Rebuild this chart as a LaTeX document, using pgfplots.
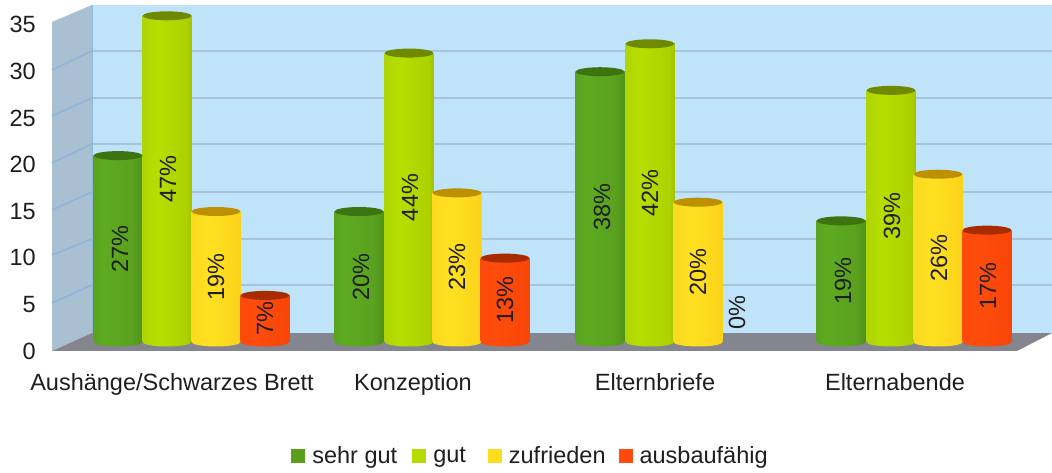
\documentclass[border=0pt]{standalone}
\usepackage{pgfplots}
\usepackage{pgfplotstable}
\usepackage{fontspec}
\setmainfont{Liberation Sans}
\pgfplotsset{compat=1.18}
\definecolor{txt}{HTML}{1E1E1E}
\definecolor{backwall}{HTML}{BFE4FA}
\definecolor{sidewall}{HTML}{A9BFD2}
\definecolor{floorc}{HTML}{85858F}
\definecolor{gridb}{HTML}{A9C3DC}
\definecolor{grids}{HTML}{8CB6DA}
\definecolor{cG}{HTML}{5A9E1C}
\definecolor{cL}{HTML}{B5DB00}
\definecolor{cY}{HTML}{FFDC20}
\definecolor{cR}{HTML}{FF4A0C}
\definecolor{tG}{HTML}{3C7410}
\definecolor{tL}{HTML}{6F8A00}
\definecolor{tY}{HTML}{BC9000}
\definecolor{tR}{HTML}{A82C00}
\pgfdeclarehorizontalshading{sG}{100bp}{rgb(0bp)=(0.29,0.56,0.10); rgb(35bp)=(0.37,0.67,0.13); rgb(65bp)=(0.35,0.63,0.12); rgb(100bp)=(0.22,0.42,0.06)}
\pgfdeclarehorizontalshading{sL}{100bp}{rgb(0bp)=(0.62,0.78,0.05); rgb(40bp)=(0.72,0.87,0.0); rgb(70bp)=(0.68,0.82,0.0); rgb(100bp)=(0.42,0.52,0.0)}
\pgfdeclarehorizontalshading{sY}{100bp}{rgb(0bp)=(0.98,0.82,0.12); rgb(45bp)=(1.0,0.88,0.13); rgb(78bp)=(0.98,0.82,0.10); rgb(100bp)=(0.75,0.55,0.0)}
\pgfdeclarehorizontalshading{sR}{100bp}{rgb(0bp)=(0.95,0.27,0.04); rgb(40bp)=(1.0,0.30,0.05); rgb(75bp)=(0.97,0.27,0.03); rgb(100bp)=(0.65,0.16,0.0)}
\pgfdeclareplotmark{baseG}{\path[draw=none,shade,shading=sG] (0pt,0pt) ellipse [x radius=24.5pt,y radius=4.5pt];}
\pgfdeclareplotmark{baseL}{\path[draw=none,shade,shading=sL] (0pt,0pt) ellipse [x radius=24.5pt,y radius=4.5pt];}
\pgfdeclareplotmark{baseY}{\path[draw=none,shade,shading=sY] (0pt,0pt) ellipse [x radius=24.5pt,y radius=4.5pt];}
\pgfdeclareplotmark{baseR}{\path[draw=none,shade,shading=sR] (0pt,0pt) ellipse [x radius=24.5pt,y radius=4.5pt];}
\pgfdeclareplotmark{topG}{\path[draw=none,fill=tG,rotate=2] (0pt,0pt) ellipse [x radius=24.5pt,y radius=4.5pt];}
\pgfdeclareplotmark{topL}{\path[draw=none,fill=tL,rotate=2] (0pt,0pt) ellipse [x radius=24.5pt,y radius=4.5pt];}
\pgfdeclareplotmark{topY}{\path[draw=none,fill=tY,rotate=2] (0pt,0pt) ellipse [x radius=24.5pt,y radius=4.5pt];}
\pgfdeclareplotmark{topR}{\path[draw=none,fill=tR,rotate=2] (0pt,0pt) ellipse [x radius=24.5pt,y radius=4.5pt];}
\pgfplotstableread{
x y
118 20
359 14
600 29
841 13
}\tG
\pgfplotstableread{
x y
167 35
409 31
650 32
891 27
}\tL
\pgfplotstableread{
x y
216 14
457 16
698 15
938 18
}\tY
\pgfplotstableread{
x y
265 5
505 9
746 0
987 12
}\tR
\pgfplotstableread{
lx ly pct
120 10 27
168 17.5 47
216 7 19
265 2.5 7
361 7 20
410 15.5 44
457 8 23
505 4.5 13
602 14.5 38
650 16 42
698 7.5 20
737 3.2 0
843 6.5 19
892 13.5 39
939 9 26
988 6 17
}\tLab
\newcommand\fs{\fontsize{23.5}{28}\selectfont}
\pgfplotsset{cyl/.style={ybar,bar shift=0pt,bar width=49pt,draw=none,shade,shading=#1,forget plot}}
\begin{document}
\begin{tikzpicture}[x=1pt,y=1pt]
\path[use as bounding box] (0,0) rectangle (1052,473);
% frame
\begin{axis}[at={(52pt,122pt)},anchor=south west,scale only axis,width=1000pt,height=346pt,
  xmin=52,xmax=1052,ymin=0,ymax=37.12,clip=false,
  axis line style={draw=none},major tick length=0pt,
  ytick={0,5,10,15,20,25,30,35},
  xtick={172,413,655,895},
  xticklabels={Aushänge/Schwarzes Brett,Konzeption,Elternbriefe,Elternabende},
  /pgf/number format/assume math mode=true,
  tick label style={font=\fs,text=txt},
  yticklabel style={anchor=east,inner sep=0pt,xshift=-16pt},
  xticklabel style={anchor=base,inner sep=0pt,yshift=-40pt},
  unbounded coords=jump]
\addplot[fill=backwall,draw=none] coordinates {(92,1.93)(1052,1.93)(1052,37.12)(92,37.12)} --cycle;
\addplot[fill=sidewall,draw=none] coordinates {(52,0)(92,1.93)(92,37.12)(52,35.30)} --cycle;
\addplot[fill=floorc,draw=none] coordinates {(52,0)(1017,0)(1052,1.93)(92,1.93)} --cycle;
\addplot[gridb,line width=2.2pt] coordinates {(92,7.08)(1052,7.08)(nan,nan)(92,12.02)(1052,12.02)(nan,nan)(92,17.06)(1052,17.06)(nan,nan)(92,22.21)(1052,22.21)(nan,nan)(92,27.15)(1052,27.15)(nan,nan)(92,32.19)(1052,32.19)};
\addplot[grids,line width=1.5pt] coordinates {(52,5.15)(92,7.08)(nan,nan)(52,10.30)(92,12.02)(nan,nan)(52,15.13)(92,17.06)(nan,nan)(52,20.17)(92,22.21)(nan,nan)(52,25.21)(92,27.15)(nan,nan)(52,30.15)(92,32.19)};
\addplot[grids,line width=1pt] coordinates {(92,1.93)(92,37.12)};
\end{axis}
% bars
\begin{axis}[at={(52pt,131pt)},anchor=south west,scale only axis,width=1000pt,height=337pt,
  xmin=52,xmax=1052,ymin=0,ymax=36.16,clip=false,hide axis,unbounded coords=discard,
  legend columns=-1,
  legend style={draw=none,fill=none,at={(0.4785,-0.338)},anchor=center,font=\fs,text=txt,
    /tikz/column 1/.style={column sep=5pt},
    /tikz/column 2/.style={column sep=13pt},
    /tikz/column 3/.style={column sep=5pt},
    /tikz/column 4/.style={column sep=20pt},
    /tikz/column 5/.style={column sep=5pt},
    /tikz/column 6/.style={column sep=11pt},
    /tikz/column 7/.style={column sep=5pt}}]
\addplot[only marks,mark=baseG,forget plot] table [x=x,y expr=0] {\tG};
\addplot[cyl=sG] coordinates {(118,20)};
\addplot[cyl=sG] coordinates {(359,14)};
\addplot[cyl=sG] coordinates {(600,29)};
\addplot[cyl=sG] coordinates {(841,13)};
\addplot[only marks,mark=topG,forget plot] table [x=x,y=y] {\tG};
\addplot[only marks,mark=baseL,forget plot] table [x=x,y expr=0] {\tL};
\addplot[cyl=sL] coordinates {(167,35)};
\addplot[cyl=sL] coordinates {(409,31)};
\addplot[cyl=sL] coordinates {(650,32)};
\addplot[cyl=sL] coordinates {(891,27)};
\addplot[only marks,mark=topL,forget plot] table [x=x,y=y] {\tL};
\addplot[only marks,mark=baseY,forget plot] table [x=x,y expr=0] {\tY};
\addplot[cyl=sY] coordinates {(216,14)};
\addplot[cyl=sY] coordinates {(457,16)};
\addplot[cyl=sY] coordinates {(698,15)};
\addplot[cyl=sY] coordinates {(938,18)};
\addplot[only marks,mark=topY,forget plot] table [x=x,y=y] {\tY};
\addplot[only marks,mark=baseR,forget plot] table [x expr={\thisrow{y}>0 ? \thisrow{x} : nan},y expr=0] {\tR};
\addplot[cyl=sR] coordinates {(265,5)};
\addplot[cyl=sR] coordinates {(505,9)};
\addplot[cyl=sR] coordinates {(987,12)};
\addplot[only marks,mark=topR,forget plot] table [x expr={\thisrow{y}>0 ? \thisrow{x} : nan},y=y] {\tR};
\addplot[only marks,mark=none,draw=none,forget plot,point meta=explicit symbolic,
  nodes near coords={\pgfplotspointmeta\%},
  nodes near coords style={rotate=90,anchor=center,font=\fs,text=txt,inner sep=0pt}]
  table [x=lx,y=ly,meta=pct] {\tLab};
% legend entries
\addplot[draw=none,legend image code/.code={\fill[cG] (0pt,-7pt) rectangle (14pt,7pt);}] coordinates {(118,20)};
\addplot[draw=none,legend image code/.code={\fill[cL] (0pt,-7pt) rectangle (14pt,7pt);}] coordinates {(167,35)};
\addplot[draw=none,legend image code/.code={\fill[cY] (0pt,-7pt) rectangle (14pt,7pt);}] coordinates {(216,14)};
\addplot[draw=none,legend image code/.code={\fill[cR] (0pt,-7pt) rectangle (14pt,7pt);}] coordinates {(265,5)};
\legend{sehr gut,gut,zufrieden,ausbaufähig}
\end{axis}
\end{tikzpicture}
\end{document}
